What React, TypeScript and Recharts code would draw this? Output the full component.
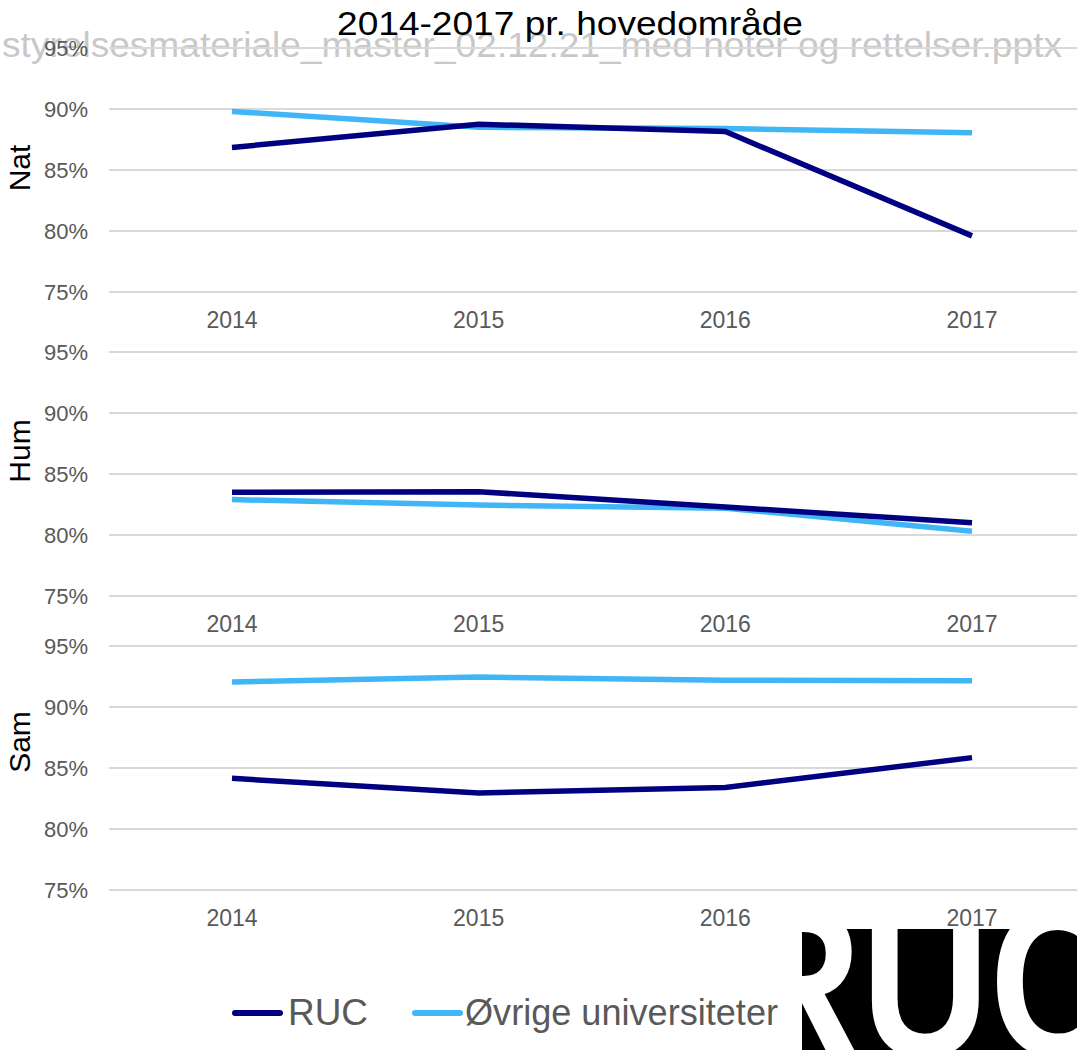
import { LineChart, Line, XAxis, YAxis, CartesianGrid } from "recharts";

const years = ["2014", "2015", "2016", "2017"];
const yTicks = [75, 80, 85, 90, 95];

// completion rates (%)
const natRuc = [86.85, 88.75, 88.15, 79.6];
const natOvrige = [89.8, 88.5, 88.4, 88.05];
const humRuc = [83.5, 83.55, 82.3, 81.0];
const humOvrige = [82.9, 82.45, 82.2, 80.3];
const samRuc = [84.15, 82.95, 83.4, 85.85];
const samOvrige = [92.05, 92.45, 92.2, 92.15];

const panelNames = ["Nat", "Hum", "Sam"];
const rucSeries = [natRuc, humRuc, samRuc];
const ovrigeSeries = [natOvrige, humOvrige, samOvrige];

const RUC_COLOR = "#000080";
const OVRIGE_COLOR = "#41B6F6";
const FONT = "'Liberation Sans', Arial, sans-serif";

// plot top (95% gridline) for each panel, and label centre
const plotTops = [48, 352, 646];
const labelCenters = [168, 451, 742];

function Panel({ idx }: { idx: number }) {
  const data = years.map((year, i) => ({
    year,
    ruc: rucSeries[idx][i],
    ovrige: ovrigeSeries[idx][i],
  }));

  return (
    <div style={{ position: "absolute", left: 0, top: plotTops[idx] - 15 }}>
      <LineChart width={1100} height={309} data={data} margin={{ top: 15, right: 5, bottom: 0, left: 0 }}>
        <CartesianGrid vertical={false} stroke="#d9d9d9" strokeWidth={2} />
        <XAxis
          dataKey="year"
          scale="point"
          padding={{ left: 123, right: 123 }}
          height={50}
          interval={0}
          axisLine={false}
          tickLine={false}
          tickSize={0}
          tickMargin={20}
          tick={{ fontSize: 23, fill: "#595959", fontFamily: FONT }}
        />
        <YAxis
          type="number"
          domain={[75, 95]}
          ticks={yTicks}
          interval={0}
          width={109}
          axisLine={false}
          tickLine={false}
          tickSize={0}
          tickMargin={21}
          tickFormatter={(v) => `${v}%`}
          tick={{ fontSize: 22, fill: "#595959", fontFamily: FONT }}
        />
        <Line type="linear" dataKey="ovrige" stroke={OVRIGE_COLOR} strokeWidth={5.5} dot={false} isAnimationActive={false} />
        <Line type="linear" dataKey="ruc" stroke={RUC_COLOR} strokeWidth={5.5} dot={false} isAnimationActive={false} />
      </LineChart>
    </div>
  );
}

export default function App() {
  return (
    <div
      style={{
        position: "fixed",
        left: 0,
        top: 0,
        width: 1077,
        height: 1050,
        overflow: "hidden",
        background: "#fff",
        fontFamily: FONT,
      }}
    >
      {/* file name watermark behind everything */}
      <svg width={1077} height={1050} style={{ position: "absolute", left: 0, top: 0 }}>
        <text x={2} y={57} fontSize={35} fill="#c8c8c8" textLength={1060} lengthAdjust="spacingAndGlyphs" fontFamily={FONT}>
          styrelsesmateriale_master_02.12.21_med noter og rettelser.pptx
        </text>
      </svg>

      {panelNames.map((_, i) => (
        <Panel key={i} idx={i} />
      ))}

      <svg width={1077} height={1050} style={{ position: "absolute", left: 0, top: 0, pointerEvents: "none" }}>
        <defs>
          <clipPath id="logoClip">
            <rect x={802} y={929} width={275} height={121} />
          </clipPath>
        </defs>

        <text x={337} y={35} fontSize={34} fill="#000" textLength={466} lengthAdjust="spacingAndGlyphs" fontFamily={FONT}>
          2014-2017 pr. hovedområde
        </text>

        {panelNames.map((name, i) => (
          <text
            key={name}
            transform={`translate(30,${labelCenters[i]}) rotate(-90)`}
            textAnchor="middle"
            fontSize={30}
            fill="#000"
            fontFamily={FONT}
          >
            {name}
          </text>
        ))}

        {/* legend */}
        <line x1={235} y1={1013} x2={280} y2={1013} stroke={RUC_COLOR} strokeWidth={6} strokeLinecap="round" />
        <text x={288} y={1025} fontSize={36} fill="#595959" textLength={80} lengthAdjust="spacingAndGlyphs" fontFamily={FONT}>RUC</text>
        <line x1={415} y1={1013} x2={460} y2={1013} stroke={OVRIGE_COLOR} strokeWidth={6} strokeLinecap="round" />
        <text x={465} y={1025} fontSize={36} fill="#595959" textLength={313} lengthAdjust="spacingAndGlyphs" fontFamily={FONT}>Øvrige universiteter</text>

        {/* RUC logo: white letters cut out of a black block */}
        <g clipPath="url(#logoClip)">
          <rect x={802} y={929} width={275} height={121} fill="#000" />
          <text x={733} y={1056} fontSize={215} fontWeight={700} fill="#fff" textLength={385} lengthAdjust="spacingAndGlyphs" fontFamily={FONT}>
            RUC
          </text>
        </g>
      </svg>
    </div>
  );
}
